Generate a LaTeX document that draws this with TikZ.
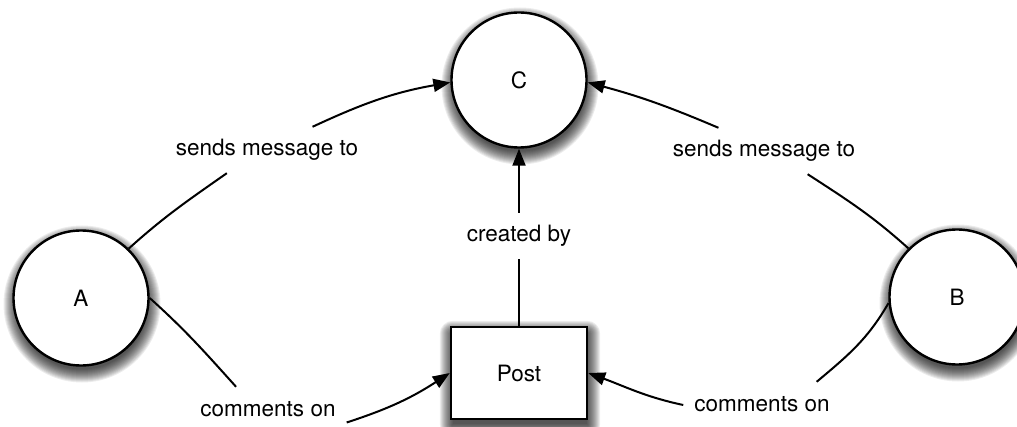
\documentclass[tikz,border=0pt]{standalone}
\usepackage{fontspec}
\setmainfont{TeX Gyre Heros}
\usetikzlibrary{arrows.meta,calc,backgrounds}

\tikzset{
  entity/.style={circle, draw, line width=2.4pt, fill=white, minimum size=135pt,
    inner sep=0pt, font=\fontsize{22.5}{27}\selectfont},
  thing/.style={rectangle, draw, line width=2.4pt, fill=white,
    minimum width=136pt, minimum height=92pt, inner sep=0pt,
    font=\fontsize{22.5}{27}\selectfont},
  rel/.style={rectangle, inner xsep=11pt, inner ysep=0pt, minimum height=46pt,
    text height=16pt, text depth=4pt, font=\fontsize{22.5}{27}\selectfont},
  link/.style={line width=2pt},
  arrowlink/.style={link, -{Triangle[length=17pt,width=13pt]}},
  shadowlayer/.style={fill=black, fill opacity=0.075, draw=none},
}

\begin{document}
\begin{tikzpicture}[x=1pt,y=1pt]
  \useasboundingbox (0,0) rectangle (1017,426);

  % actors and the post
  \node[entity] (C) at (519,346) {C};
  \node[entity] (A) at (81,128) {A};
  \node[entity] (B) at (957,129) {B};
  \node[thing] (P) at (519,53) {Post};

  % soft drop shadows, built from stacked translucent layers
  \begin{scope}[on background layer]
    \foreach \k in {0,...,13}{
      \foreach \n in {A,B,C}{
        \fill[shadowlayer] ($(\n.center)+(1,-6)$) circle (65.5+\k);
      }
      \fill[shadowlayer, rounded corners=\k pt]
        ($(P.south west)+(-\k+3,-\k-4)$) rectangle ($(P.north east)+(\k-1,\k-8)$);
    }
  \end{scope}

  % relation labels
  \node[rel] (s1) at (267,276) {sends message to};
  \node[rel] (s2) at (764,275) {sends message to};
  \node[rel] (cb) at (519,190) {created by};
  \node[rel] (c1) at (268,16) {comments on};
  \node[rel] (c2) at (762,21) {comments on};

  % A sends message to C
  \draw[link] (A.46) to[out=42,in=215] (s1.210);
  \draw[arrowlink] (s1.27) to[out=25,in=190] (C.182);

  % B sends message to C
  \draw[link] (B.135) to[out=138,in=-33] (s2.332);
  \draw[arrowlink] (s2.153) to[out=157,in=-15] (C.-2);

  % Post created by C
  \draw[link] (P.north) -- (cb.south);
  \draw[arrowlink] (cb.north) -- (C.south);

  % A comments on Post
  \draw[link] (A.0) to[out=-42,in=132] (c1.144);
  \draw[arrowlink] (c1.-9) to[out=18,in=213] (P.west);

  % B comments on Post
  \draw[link] (B.185) to[out=240,in=40] (c2.23);
  \draw[arrowlink] (c2.west) to[out=168,in=-20] (P.east);
\end{tikzpicture}
\end{document}
